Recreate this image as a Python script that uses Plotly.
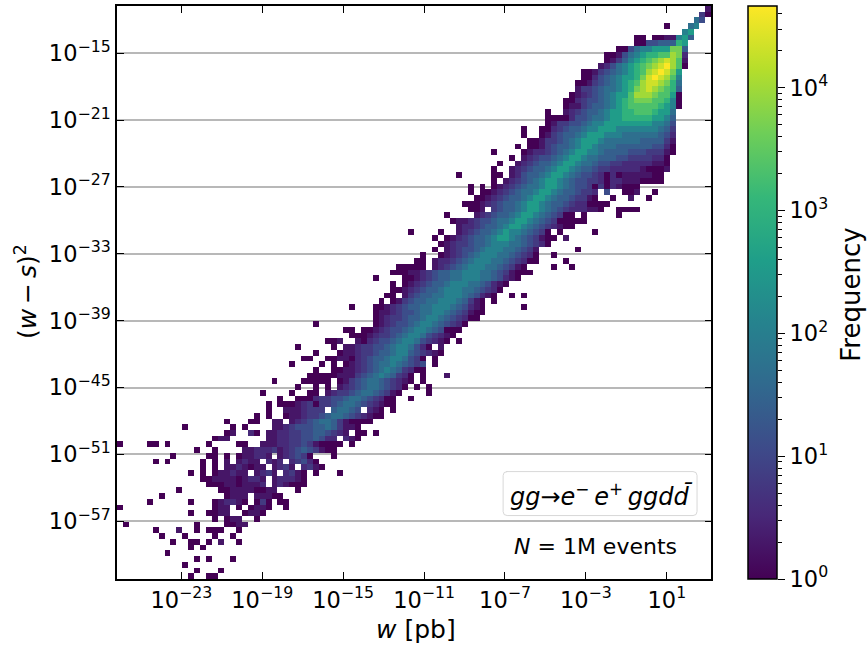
import plotly.graph_objects as go
import numpy as np

# 2D histogram, one entry per y-bin from the bottom row upward.
# Each character is one x-bin: '.' = empty, otherwise an index into LEVEL_LOG10 (base 15).
LEVEL_LOG10 = [0, 0.28, 0.55, 0.8, 1.1, 1.4, 1.7, 2.05, 2.55, 3.0, 3.33, 3.67, 4.0, 4.33, 4.665]
ROW_START = [
 12,13,11,13,8,12,9,7,6,1,
 16,12,0,5,7,10,15,14,12,14,
 6,9,13,0,16,18,11,18,23,25,
 25,27,24,30,26,32,33,29,31,33,
 30,35,39,38,33,43,43,39,44,45,
 46,46,43,46,47,50,51,53,54,53,
 49,57,56,55,59,58,60,59,59,63,
 57,63,64,66,63,67,69,68,68,72,
 72,72,75,75,76,77,77,78,78,81,
 82,82,84,87,87,95,92,97,98,99,
]
ROW_LEVELS = [
 "0..00",
 "0...0",
 "0",
 "0.0...0",
 "0",
 "0.0",
 "0..00.0.1..0",
 "0...0....0..0",
 "0...1..0.000..0",
 "0...........0....0011",
 "0.011..0",
 "0..0011..0110",
 "0...............011.0.0110..0",
 "0......0...012210.030.00",
 "0..........0111.11100",
 "0......0011110011...0",
 "0001101112.121000",
 "00111101221.122210",
 "0.0.011211.1231.2310.0...0",
 "0.0.1121011.1231.2310",
 "0.0.....0.0.1.1211.212.23420",
 "0.....00.0.011221.123430...0",
 "0..0....1122231234543100",
 "0....00.0......0....00..11122334310000.0",
 "011......112233445422.210",
 "01..20.11223344554321.00.0",
 "0.......0.0....112344455653110",
 "0...00..11.12345665310000",
 "0.0..01123345665432100",
 "0..1112333.56654.210.0",
 "0.00012303345665432100",
 "0..00023344566543200..0",
 "0....0..00.1233456654310....0",
 "0..0.0.123456654320.0.0",
 "0....00000.0134566543210.0",
 "000001113456765320.0...1",
 "0..0011234567653200",
 "0....0.0.01234566765434.0",
 "00..00110234556776430.0",
 "0...011233455677543210",
 "0.....0.112334456776420.1",
 "001..1023445677643210.0",
 "000123345677643210",
 "00.00123445677654000",
 "0.........0123445677654320",
 "012334556776543200",
 "0112344566776543100",
 "0...0012345566777654210......0",
 "0.01345566777653 10.0".replace(" ", ""),
 "00.1345566777654210..0.0",
 "0012345567776654320",
 "0.012345567776654210",
 "0....00123455667776654210",
 "000112345566777665431000",
 "00000.1234567776654310....0..0",
 "00.12234567776654320 0....0".replace(" ", ""),
 "0..0123456777665432 0..0".replace(" ", ""),
 "0.1234456777665431......0",
 "0123345567776654320",
 "0.0123455678876543100.1",
 "0....0..123455678776543 0.0.....0".replace(" ", ""),
 "12234556788765432100",
 "01123445667887654300000",
 "0....1234556788765430 0.0.....0".replace(" ", ""),
 "001.3455678876543222110..0000",
 "000123455678876554322 0000".replace(" ", ""),
 "00123455678876554 3310..0..1..0".replace(" ", ""),
 "0.00123456678876554332.4..001..0",
 "0.0.012345667887654430302 1000".replace(" ", ""),
 "0.1234567887654433 20221110000".replace(" ", ""),
 "0.....00.12455678876544320201111100",
 "0..123455678876554332222210001",
 "0..12345567887665443322222110",
 "0.1234456788766555443333220",
 "0....01223456788776555544433310",
 "0.0013455678876665555554420",
 "0013345678887666666555531",
 "0..01345567888777666666542",
 "0..00234556778887777777653",
 "0133445677888888887764",
 "0000244566788999998875",
 "0..123455678899aaa9886",
 "01134556789aaaaa9870",
 "00234456789abbbaa970",
 "0123456788acccbaa80",
 "1334566789bcdcba95",
 "0013456789acddcb96",
 "0024567889bdedca7",
 "0013456789acdedb8",
 "1246789abcdeca0",
 "0135789abcdca1",
 "001467899aacb2",
 "004677888bb5",
 "004455598",
 "00.0011785",
 "78",
 "0...67",
 "64",
 "30",
 "1",
]
N_BINS = 100
X_RANGE = [-26.18, 3.2]
Y_RANGE = [-62.18, -10.76]
Z_MAX = 4.665
X_TICK_EXP = [-23, -19, -15, -11, -7, -3, 1]
Y_TICK_EXP = [-57, -51, -45, -39, -33, -27, -21, -15]
CB_TICK_EXP = [0, 1, 2, 3, 4]

z = np.full((N_BINS, N_BINS), np.nan)
for rb, (start, levels) in enumerate(zip(ROW_START, ROW_LEVELS)):
    for i, ch in enumerate(levels):
        c = start + i
        if ch != "." and c < N_BINS:
            z[rb, c] = LEVEL_LOG10[int(ch, 15)]

x_edges = np.logspace(X_RANGE[0], X_RANGE[1], N_BINS + 1)
y_edges = np.logspace(Y_RANGE[0], Y_RANGE[1], N_BINS + 1)


def sup(e):
    return f"10<sup>{str(e).replace('-', '−')}</sup>"


L, R, T, B = 116.7, 777.0, 6.0, 579.5
W, H = 867, 646
PW, PH = R - L, B - T
px = lambda v: (v - L) / PW
py = lambda v: (B - v) / PH

FONT = "DejaVu Sans"
TICK = 22.5
fig = go.Figure()
fig.add_trace(go.Heatmap(
    z=z, x=x_edges, y=y_edges, colorscale="Viridis", zmin=0, zmax=Z_MAX,
    hoverongaps=False, xgap=0, ygap=0,
    colorbar=dict(x=px(748.0), xanchor="left", xref="paper", thickness=29, thicknessmode="pixels",
                  y=0.5, yanchor="middle", len=1, lenmode="fraction", xpad=0, ypad=0,
                  outlinewidth=1.5, outlinecolor="#000", ticks="", showticklabels=False),
))
fig.add_trace(go.Scatter(x=[None], y=[None], yaxis="y2", showlegend=False, hoverinfo="skip"))

cb_minor = [m * 10 ** k for k in range(5) for m in range(2, 10) if m * 10 ** k < 10 ** Z_MAX]
fig.update_layout(
    width=W, height=H, autosize=False, paper_bgcolor="white", plot_bgcolor="white",
    margin=dict(l=L, r=W - R, t=T, b=H - B, autoexpand=False, pad=0),
    font=dict(family=FONT, color="black", size=TICK),
    showlegend=False,
    xaxis=dict(type="log", range=X_RANGE, domain=[0, (711.3 - L) / PW], tickmode="array",
               tickvals=[10.0 ** e for e in X_TICK_EXP], ticktext=[sup(e) for e in X_TICK_EXP],
               ticks="inside", ticklen=7, tickwidth=1.2, tickcolor="black", showgrid=False, zeroline=False,
               showline=True, linewidth=1.5, linecolor="black", mirror="ticks",
               tickfont=dict(size=TICK, family=FONT)),
    yaxis=dict(type="log", range=Y_RANGE, tickmode="array",
               tickvals=[10.0 ** e for e in Y_TICK_EXP], ticktext=[sup(e) for e in Y_TICK_EXP],
               ticks="inside", ticklen=7, tickwidth=1.2, tickcolor="black", showgrid=True,
               gridcolor="#b8b8b8", gridwidth=1.5, zeroline=False,
               showline=True, linewidth=1.5, linecolor="black", mirror="ticks",
               tickfont=dict(size=TICK, family=FONT)),
    yaxis2=dict(type="log", range=[0, Z_MAX], overlaying="y", anchor="free", position=1, side="right",
                tickmode="array", tickvals=[10.0 ** e for e in CB_TICK_EXP],
                ticktext=[sup(e) for e in CB_TICK_EXP], ticks="outside", ticklen=7, tickwidth=1.2,
                tickcolor="black", showgrid=False, zeroline=False, showline=False,
                minor=dict(tickmode="array", tickvals=cb_minor, ticks="outside", ticklen=3.5, tickwidth=1,
                           tickcolor="black", showgrid=False),
                tickfont=dict(size=TICK, family=FONT)),
    shapes=[dict(type="path", xref="paper", yref="paper", layer="above",
                 path=(f"M {px(506)} {py(472)} L {px(693)} {py(472)} Q {px(697)} {py(472)} {px(697)} {py(476)} "
                       f"L {px(697)} {py(512)} Q {px(697)} {py(516)} {px(693)} {py(516)} "
                       f"L {px(507)} {py(516)} Q {px(503)} {py(516)} {px(503)} {py(512)} "
                       f"L {px(503)} {py(476)} Q {px(503)} {py(472)} {px(507)} {py(472)} Z"),
                 line=dict(color="#d8d8d8", width=1), fillcolor="rgba(255,255,255,0.8)")],
    annotations=[
        dict(text="<i>w</i> [pb]", x=px(416), y=py(630), xref="paper", yref="paper", showarrow=False,
             xanchor="center", yanchor="middle", font=dict(size=25, family=FONT)),
        dict(text="(<i>w</i>\u2009−\u2009<i>s</i>)<sup>2</sup>", x=px(26), y=py(292), xref="paper", yref="paper",
             showarrow=False, textangle=-90, xanchor="center", yanchor="middle", font=dict(size=25, family=FONT)),
        dict(text="Frequency", x=px(851), y=py(295), xref="paper", yref="paper", showarrow=False,
             textangle=-90, xanchor="center", yanchor="middle", font=dict(size=26, family=FONT)),
        dict(text="<i>gg</i>→<i>e</i><sup>−</sup>\u2009<i>e</i><sup>+</sup>\u2009<i>ggdd̄</i>", x=px(601), y=py(495),
             xref="paper", yref="paper", showarrow=False, xanchor="center", yanchor="middle",
             font=dict(size=24, family=FONT)),
        dict(text="<i>N</i> = 1M events", x=px(595), y=py(547), xref="paper", yref="paper", showarrow=False,
             xanchor="center", yanchor="middle", font=dict(size=22, family=FONT)),
    ],
)
fig.write_html("out.html", post_script="document.body.style.margin='0';",
               config={"displayModeBar": False})
